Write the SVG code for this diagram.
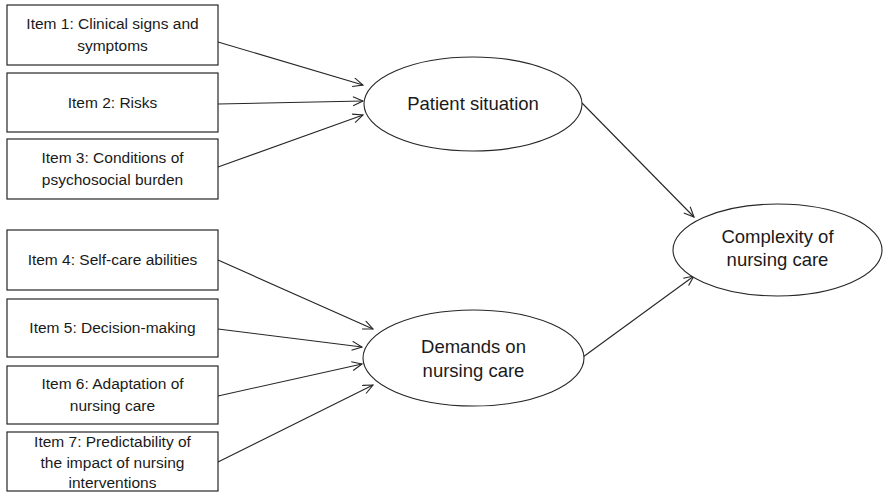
<svg xmlns="http://www.w3.org/2000/svg" width="883" height="493" viewBox="0 0 883 493">
<defs>
<style>
.box{fill:#fff;stroke:#262626;stroke-width:1.2}
.ell{fill:#fff;stroke:#262626;stroke-width:1.1}
.t{font-family:"Liberation Sans",Arial,sans-serif;font-size:15.5px;fill:#1a1a1a;text-anchor:middle}
.te{font-family:"Liberation Sans",Arial,sans-serif;font-size:18.5px;fill:#1a1a1a;text-anchor:middle}
.c{stroke:#262626;stroke-width:1.1;fill:none;marker-end:url(#ah)}
</style>
<marker id="ah" markerUnits="userSpaceOnUse" markerWidth="14" markerHeight="12" refX="11" refY="5" orient="auto">
<path d="M1,0.5 L11,5 L1,9.5" fill="none" stroke="#262626" stroke-width="1.1"/>
</marker>
</defs>
<rect width="883" height="493" fill="#fff"/>
<g id="connectors">
<line class="c" x1="218" y1="42" x2="363" y2="85"/>
<line class="c" x1="218" y1="104" x2="363" y2="101"/>
<line class="c" x1="218" y1="167" x2="363" y2="115"/>
<line class="c" x1="218" y1="260" x2="373" y2="329"/>
<line class="c" x1="218" y1="329" x2="362" y2="347"/>
<line class="c" x1="218" y1="396" x2="362" y2="364"/>
<line class="c" x1="218" y1="462" x2="373" y2="385"/>
<line class="c" x1="582" y1="103" x2="694" y2="217"/>
<line class="c" x1="583" y1="357" x2="694" y2="276"/>
</g>
<g id="item1"><rect class="box" x="7" y="5" width="211" height="60"/><text class="t" x="112.5" y="29">Item 1: Clinical signs and</text><text class="t" x="112.5" y="51">symptoms</text></g>
<g id="item2"><rect class="box" x="7" y="73" width="211" height="59"/><text class="t" x="112.5" y="108">Item 2: Risks</text></g>
<g id="item3"><rect class="box" x="7" y="139" width="211" height="60"/><text class="t" x="112.5" y="163">Item 3: Conditions of</text><text class="t" x="112.5" y="185">psychosocial burden</text></g>
<g id="item4"><rect class="box" x="7" y="230" width="211" height="60"/><text class="t" x="112.5" y="265">Item 4: Self-care abilities</text></g>
<g id="item5"><rect class="box" x="7" y="299" width="211" height="58"/><text class="t" x="112.5" y="333">Item 5: Decision-making</text></g>
<g id="item6"><rect class="box" x="7" y="366" width="211" height="58"/><text class="t" x="112.5" y="389">Item 6: Adaptation of</text><text class="t" x="112.5" y="411">nursing care</text></g>
<g id="item7"><rect class="box" x="7" y="432" width="211" height="59"/><text class="t" x="112.5" y="447">Item 7: Predictability of</text><text class="t" x="112.5" y="468">the impact of nursing</text><text class="t" x="112.5" y="488">interventions</text></g>
<g id="patient"><ellipse class="ell" cx="473" cy="104" rx="109" ry="47"/><text class="te" x="473" y="110">Patient situation</text></g>
<g id="demands"><ellipse class="ell" cx="473.5" cy="358" rx="110.5" ry="48"/><text class="te" x="473.5" y="353">Demands on</text><text class="te" x="473.5" y="377">nursing care</text></g>
<g id="complexity"><ellipse class="ell" cx="777.5" cy="250" rx="104.5" ry="46"/><text class="te" x="777.5" y="243">Complexity of</text><text class="te" x="777.5" y="266">nursing care</text></g>
</svg>
